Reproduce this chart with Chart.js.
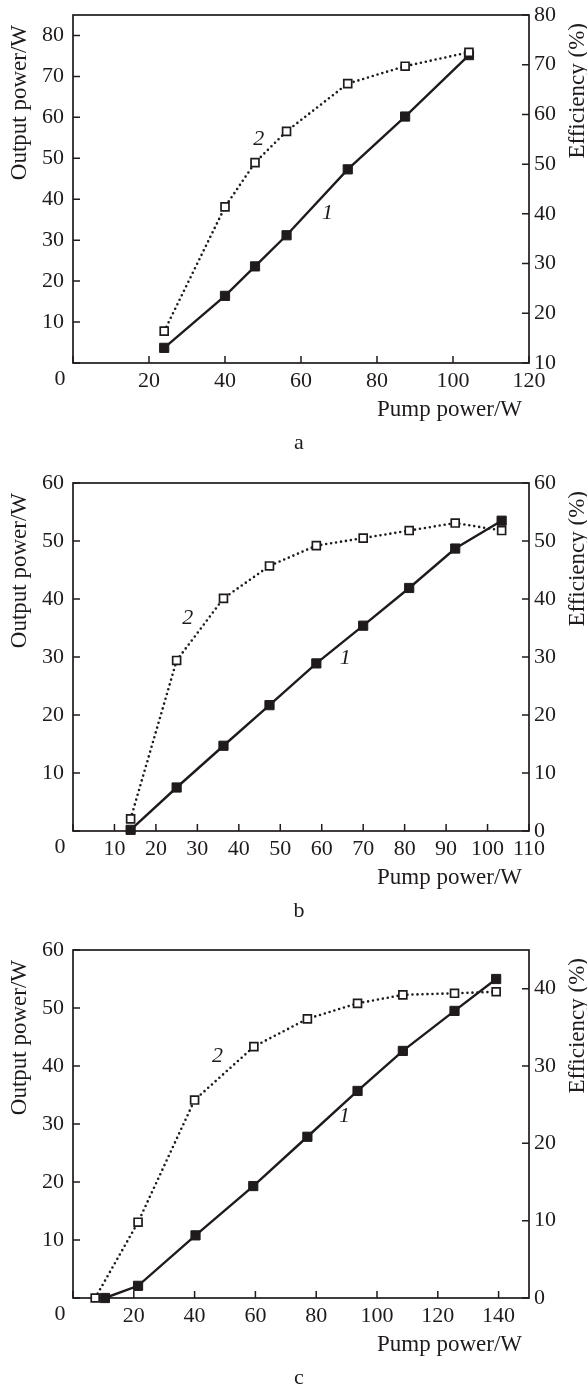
<!DOCTYPE html>
<html>
<head>
<meta charset="utf-8">
<title>Pump power vs output power and efficiency</title>
<script src="https://cdn.jsdelivr.net/npm/chart.js@4.4.1/dist/chart.umd.min.js"></script>
<style>
  html, body { margin: 0; padding: 0; background: #fff; }
  body { width: 587px; height: 1385px; position: relative; overflow: hidden; }
  .panel { position: absolute; left: 0; width: 587px; height: 450px; }
  .panel canvas { display: block; }
</style>
</head>
<body>
<div class="panel" style="top:0"><canvas id="chart-a" width="587" height="450"></canvas></div>
<div class="panel" style="top:468px"><canvas id="chart-b" width="587" height="450"></canvas></div>
<div class="panel" style="top:935px"><canvas id="chart-c" width="587" height="450"></canvas></div>
<script>
// Werte (Pump power in W, Output power in W, Efficiency in %)
const pumpA = [24.0, 40.0, 47.9, 56.2, 72.3, 87.4, 104.2];
const outputA = [3.7, 16.4, 23.6, 31.2, 47.3, 60.2, 75.2];
const effA = [16.4, 41.4, 50.3, 56.6, 66.2, 69.7, 72.5];

const pumpB = [13.9, 25.0, 36.3, 47.4, 58.7, 70.0, 81.1, 92.2, 103.4];
const outputB = [0.2, 7.5, 14.7, 21.7, 28.9, 35.4, 41.9, 48.7, 53.5];
const effB = [2.1, 29.4, 40.1, 45.7, 49.2, 50.5, 51.8, 53.1, 51.8];

const pumpOutC = [10.5, 21.4, 40.3, 59.3, 77.1, 93.6, 108.5, 125.5, 139.2];
const outputC = [0, 2.1, 10.8, 19.3, 27.8, 35.7, 42.6, 49.5, 55.0];
const pumpEffC = [7.3, 21.4, 40.0, 59.5, 77.1, 93.6, 108.5, 125.5, 139.2];
const effC = [0, 9.8, 25.6, 32.5, 36.1, 38.1, 39.2, 39.4, 39.6];

// Kurvennummern, in Achsenwerten (x, linke y-Achse)
const curveLabelsA = [{ text: '1', x: 67.0, y: 36.7 }, { text: '2', x: 48.9, y: 54.6 }];
const curveLabelsB = [{ text: '1', x: 65.7, y: 29.8 }, { text: '2', x: 27.7, y: 36.7 }];
const curveLabelsC = [{ text: '1', x: 89.3, y: 31.4 }, { text: '2', x: 47.5, y: 41.7 }];

const ink = '#1f1b1c';
const serif = "'Liberation Serif', 'Times New Roman', serif";
const tickFont = { family: serif, size: 22 };
const titleSize = 23;

Chart.defaults.color = ink;
Chart.defaults.font.family = serif;

function toPoints(xs, ys) {
  return xs.map((x, i) => ({ x, y: ys[i] }));
}

const frameAndTicks = {
  id: 'frameAndTicks',
  beforeDatasetsDraw(chart) {
    const { ctx, chartArea: a, scales } = chart;
    const len = 7;
    ctx.save();
    ctx.strokeStyle = ink;
    ctx.lineWidth = 1.7;
    ctx.strokeRect(a.left, a.top, a.right - a.left, a.bottom - a.top);
    ctx.lineWidth = 1.5;
    ctx.beginPath();
    scales.x.ticks.forEach((t) => {
      const px = scales.x.getPixelForValue(t.value);
      ctx.moveTo(px, a.bottom);
      ctx.lineTo(px, a.bottom - len);
    });
    scales.y.ticks.forEach((t) => {
      const py = scales.y.getPixelForValue(t.value);
      ctx.moveTo(a.left, py);
      ctx.lineTo(a.left + len, py);
    });
    scales.y1.ticks.forEach((t) => {
      const py = scales.y1.getPixelForValue(t.value);
      ctx.moveTo(a.right, py);
      ctx.lineTo(a.right - len, py);
    });
    ctx.stroke();
    ctx.restore();
  },
  afterDraw(chart, args, opts) {
    const { ctx, chartArea: a, scales } = chart;
    ctx.save();
    ctx.fillStyle = ink;
    ctx.textBaseline = 'middle';

    // gemeinsame Null in der Ecke
    ctx.font = `${tickFont.size}px ${serif}`;
    ctx.textAlign = 'center';
    ctx.fillText('0', a.left - 13, a.bottom + 16);

    ctx.font = `${titleSize}px ${serif}`;
    ctx.textAlign = 'right';
    ctx.fillText('Pump power/W', a.right - 7, a.bottom + 47);

    ctx.save();
    ctx.translate(20, a.top + 10);
    ctx.rotate(-Math.PI / 2);
    ctx.fillText('Output power/W', 0, 0);
    ctx.restore();

    ctx.save();
    ctx.translate(578, a.top + 8);
    ctx.rotate(-Math.PI / 2);
    ctx.fillText('Efficiency (%)', 0, 0);
    ctx.restore();

    ctx.textAlign = 'center';
    ctx.font = `${tickFont.size}px ${serif}`;
    ctx.fillText(opts.letter, 299, 443);

    ctx.font = `italic ${tickFont.size}px ${serif}`;
    (opts.curveLabels || []).forEach((l) => {
      ctx.fillText(l.text, scales.x.getPixelForValue(l.x), scales.y.getPixelForValue(l.y));
    });
    ctx.restore();
  },
};

// Überstand der Beschriftungen nicht in den Plotbereich einrechnen
function fixWidth(width) {
  return (scale) => {
    scale.width = width;
    scale.paddingTop = 0;
    scale.paddingBottom = 0;
  };
}

function makePanel(id, cfg) {
  return new Chart(document.getElementById(id), {
    type: 'line',
    data: {
      datasets: [
        {
          label: 'Efficiency',
          data: toPoints(cfg.pumpEff, cfg.eff),
          yAxisID: 'y1',
          borderColor: ink,
          borderWidth: 2.6,
          borderDash: [0, 5],
          borderCapStyle: 'round',
          pointStyle: 'rect',
          pointRadius: 5.6,
          pointBorderWidth: 1.7,
          pointBorderColor: ink,
          pointBackgroundColor: '#fff',
          tension: 0,
          clip: false,
        },
        {
          label: 'Output power',
          data: toPoints(cfg.pumpOut, cfg.out),
          yAxisID: 'y',
          borderColor: ink,
          borderWidth: 2.4,
          pointStyle: 'rect',
          pointRadius: 6.5,
          pointBorderWidth: 1,
          pointBorderColor: ink,
          pointBackgroundColor: ink,
          tension: 0,
          clip: false,
        },
      ],
    },
    options: {
      responsive: false,
      animation: false,
      devicePixelRatio: 1,
      layout: { padding: { top: 15, left: 0, right: 0, bottom: 0 } },
      plugins: {
        legend: { display: false },
        tooltip: { enabled: false },
        frameAndTicks: { letter: cfg.letter, curveLabels: cfg.curveLabels },
      },
      scales: {
        x: {
          type: 'linear',
          min: 0,
          max: cfg.xMax,
          grid: { display: false, drawTicks: false },
          border: { display: false },
          ticks: {
            stepSize: cfg.xStep,
            includeBounds: false,
            autoSkip: false,
            maxRotation: 0,
            padding: 5,
            font: tickFont,
            color: ink,
            callback: (v) => (v === 0 ? '' : v),
          },
          afterFit: (scale) => {
            scale.height = 87;
            scale.paddingLeft = 0;
            scale.paddingRight = 0;
          },
        },
        y: {
          position: 'left',
          min: 0,
          max: cfg.yMax,
          grid: { display: false, drawTicks: false },
          border: { display: false },
          ticks: {
            stepSize: 10,
            includeBounds: false,
            padding: 9,
            font: tickFont,
            color: ink,
            callback: (v) => (v === 0 ? '' : v),
          },
          afterFit: fixWidth(73),
        },
        y1: {
          position: 'right',
          min: cfg.effMin,
          max: cfg.effMax,
          grid: { display: false, drawTicks: false },
          border: { display: false },
          ticks: {
            stepSize: 10,
            includeBounds: false,
            padding: 5,
            font: tickFont,
            color: ink,
          },
          afterFit: fixWidth(58),
        },
      },
    },
    plugins: [frameAndTicks],
  });
}

makePanel('chart-a', {
  letter: 'a', pumpOut: pumpA, out: outputA, pumpEff: pumpA, eff: effA,
  xMax: 120, xStep: 20, yMax: 85, effMin: 10, effMax: 80, curveLabels: curveLabelsA,
});
makePanel('chart-b', {
  letter: 'b', pumpOut: pumpB, out: outputB, pumpEff: pumpB, eff: effB,
  xMax: 110, xStep: 10, yMax: 60, effMin: 0, effMax: 60, curveLabels: curveLabelsB,
});
makePanel('chart-c', {
  letter: 'c', pumpOut: pumpOutC, out: outputC, pumpEff: pumpEffC, eff: effC,
  xMax: 150, xStep: 20, yMax: 60, effMin: 0, effMax: 45, curveLabels: curveLabelsC,
});
</script>
</body>
</html>
